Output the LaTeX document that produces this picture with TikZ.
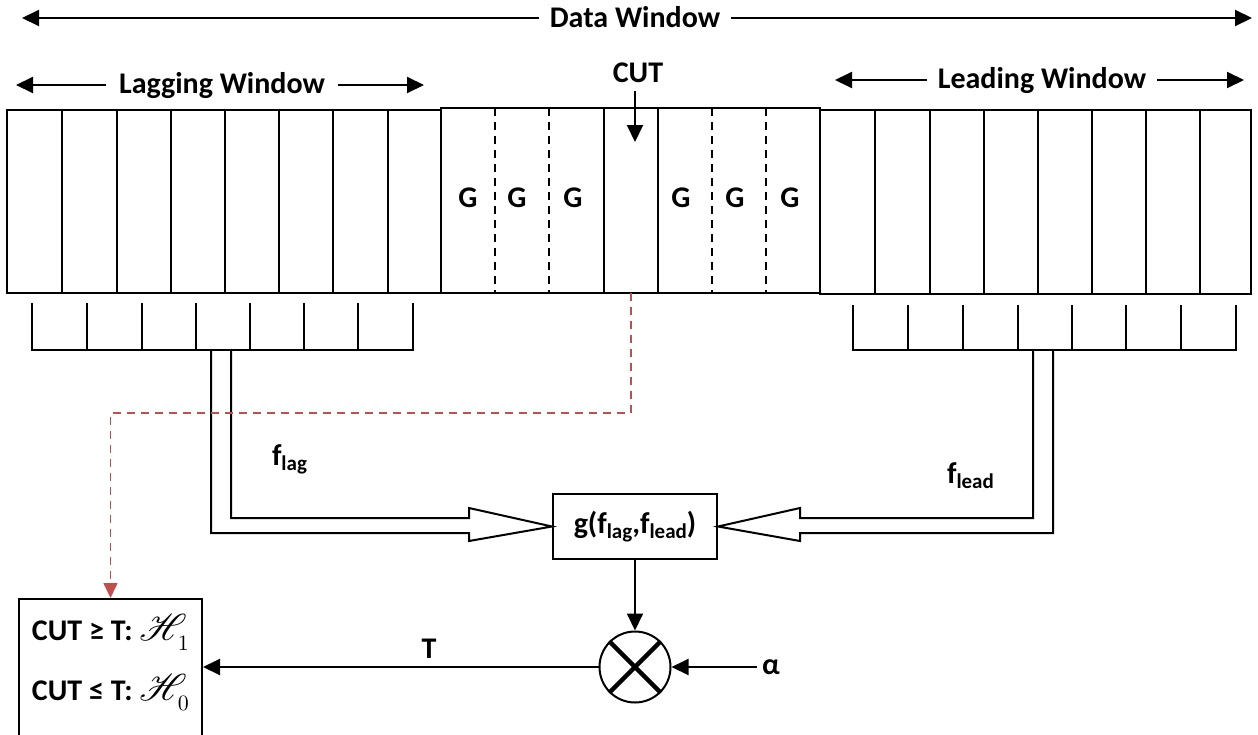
\documentclass[tikz,border=0pt]{standalone}
\usepackage{fontspec}
\setmainfont{Carlito}
\usepackage{mathrsfs}
\usetikzlibrary{arrows.meta,calc}
\definecolor{cutred}{HTML}{C0504D}
\newcommand\lsub[1]{\raisebox{-0.35ex}{\fontsize{10.5}{10}\selectfont #1}}
\newcommand\bigH[1]{\scalebox{1.3}{$\mathscr{H}$}\kern-4.5pt\raisebox{-0.7ex}{$\scriptstyle #1$}}
\begin{document}
\begin{tikzpicture}[x=0.5pt,y=-0.5pt,line width=1pt,
  lbl/.style={font=\fontsize{15}{18}\selectfont\bfseries,inner sep=0pt},
  tip/.style={-{Triangle[length=8.5pt,width=8pt]}},
  dashdiv/.style={dash pattern=on 4pt off 3pt},
  reddash/.style={draw=cutred,dash pattern=on 4pt off 3pt,line width=0.8pt,-{Triangle[length=7.5pt,width=7pt,fill=cutred]}}]
\useasboundingbox (0,0) rectangle (1258,734);

% window labels
\node[lbl,anchor=base,inner xsep=5pt] (dw) at (635,27) {Data Window};
\coordinate (dwl) at (22,18); \coordinate (dwr) at (1252,18);
\draw[tip] (dw.west |- dwl) -- (dwl);
\draw[tip] (dw.east |- dwr) -- (dwr);

\node[lbl,anchor=base,inner xsep=6pt] (lagw) at (222,93) {Lagging Window};
\coordinate (lagl) at (16,85); \coordinate (lagr) at (424,85);
\draw[tip] (lagw.west |- lagl) -- (lagl);
\draw[tip] (lagw.east |- lagr) -- (lagr);

\node[lbl,anchor=base,inner xsep=5pt] (leadw) at (1042,88) {Leading Window};
\coordinate (leadl) at (835,80); \coordinate (leadr) at (1244,80);
\draw[tip] (leadw.west |- leadl) -- (leadl);
\draw[tip] (leadw.east |- leadr) -- (leadr);

% main row
\draw (7,110) rectangle (441,293);
\foreach \x in {62,117,171,225,279,333,388} \draw (\x,110) -- (\x,293);
\draw (441,108) rectangle (820,293);
\foreach \x in {495,549,712,766} \draw[dashdiv] (\x,108) -- (\x,293);
\foreach \x in {604,658} \draw (\x,108) -- (\x,293);
\draw (820,110) rectangle (1251,294);
\foreach \x in {875,930,984,1038,1092,1146,1200} \draw (\x,110) -- (\x,294);

\foreach \x/\n in {468/1,517/2,573/3,681/4,735/5,790/6}
  \node[lbl,anchor=base] (G\n) at (\x,207) {G};

% CUT
\node[lbl,anchor=base,inner ysep=4pt] (cut) at (638,82) {CUT};
\coordinate (cuttip) at (635,142);
\draw[tip] (cut.south -| cuttip) -- (cuttip);

% combs
\draw (32,303) -- (32,350) -- (413,350) -- (413,303);
\foreach \x in {87,142,196,250,304,358} \draw (\x,303) -- (\x,350);
\draw (853,305) -- (853,350) -- (1236,350) -- (1236,305);
\foreach \x in {908,963,1018,1072,1126,1181} \draw (\x,305) -- (\x,350);

% g box
\node[draw,minimum width=82pt,minimum height=32.5pt,font=\fontsize{15}{18}\selectfont\bfseries,inner sep=0pt] (gfun) at (635,526.5) {g(f\lsub{lag},f\lsub{lead})};

% hollow arrows
\draw[line join=miter] (211,350) -- (211,533) -- (469,533) -- (469,541) -- (gfun.west)
  -- (469,508) -- (469,518) -- (231,518) -- (231,350);
\draw[line join=miter] (1053,351) -- (1053,533) -- (800,533) -- (800,541) -- (gfun.east)
  -- (800,508) -- (800,518) -- (1033,518) -- (1033,351);

\node[lbl,anchor=base west] (flag) at (271,465) {f\lsub{lag}};
\node[lbl,anchor=base west] (flead) at (946,483) {f\lsub{lead}};

% multiplier
\node[draw,circle,minimum size=35.5pt,inner sep=0pt] (mult) at (635,667) {};
\draw[line width=2.2pt] (mult.north west) -- (mult.south east);
\draw[line width=2.2pt] (mult.north east) -- (mult.south west);
\draw[tip] (gfun.south) -- (mult.north);

\node[lbl,inner sep=2pt] (alpha) at (771,667) {α};
\draw[tip] (alpha.west) -- (mult.east);

% decision box
\node[draw,minimum width=91.5pt,minimum height=81pt,anchor=north] (dec) at (110.5,598) {};
\draw[tip] (mult.west) -- (mult.west -| dec.east);
\node[lbl,anchor=base] (T) at (429,658) {T};
\node[lbl,anchor=base west] (h1) at (31,640) {CUT ≥ T: \bigH{1}};
\node[lbl,anchor=base west] (h0) at (31,700) {CUT ≤ T: \bigH{0}};

% red dashed
\coordinate (rs) at (631,293);
\draw[reddash] (rs) -- ++(0,120) -| (dec.north);
\end{tikzpicture}
\end{document}
